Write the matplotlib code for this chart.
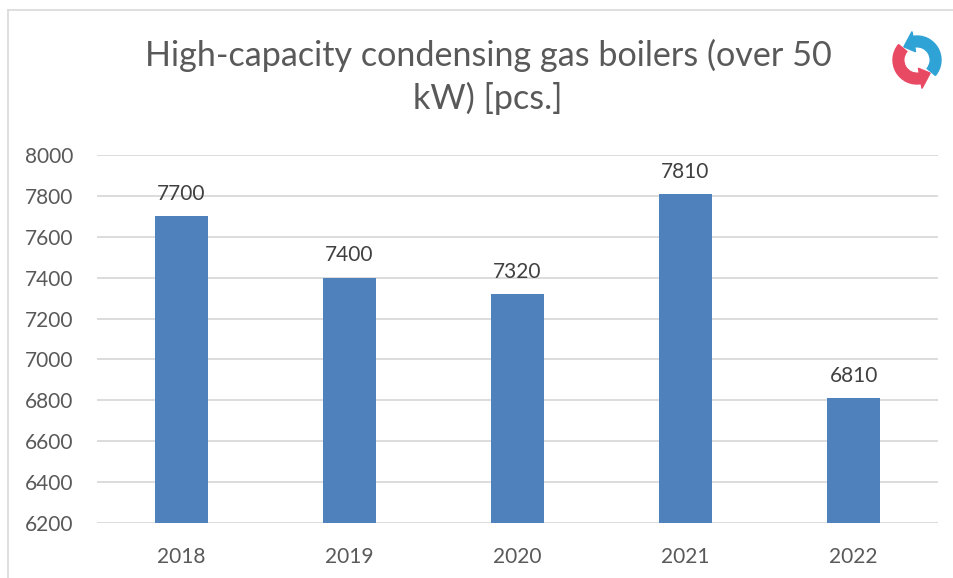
#!/usr/bin/env python3
import matplotlib
matplotlib.use("Agg")
import matplotlib.pyplot as plt
from matplotlib.patches import Wedge, Polygon
from matplotlib.lines import Line2D
import numpy as np

years = ["2018", "2019", "2020", "2021", "2022"]
boilers = [7700, 7400, 7320, 7810, 6810]
yticks = [6200, 6400, 6600, 6800, 7000, 7200, 7400, 7600, 7800, 8000]

plt.rcParams['font.family'] = ['Lato', 'DejaVu Sans']

fig = plt.figure(figsize=(9.54, 5.78), dpi=100)
ax = fig.add_axes([0.1017, 0.0952, 0.8813, 0.6366])

x = np.arange(len(years))
ax.bar(x, boilers, width=0.315, color="#4F81BD", zorder=3)
for xi, v in zip(x, boilers):
    ax.text(xi, v + 60, str(v), ha="center", va="bottom", fontsize=15, color="#404040", zorder=4)

ax.set_xlim(-0.5, len(years) - 0.5)
ax.set_ylim(6200, 8000)
ax.set_yticks(yticks)
ax.set_xticks(x)
ax.set_xticklabels(years)
ax.tick_params(axis="both", length=0, labelsize=15, labelcolor="#595959")
ax.tick_params(axis="y", pad=17)
ax.tick_params(axis="x", pad=17)
ax.grid(axis="y", color="#D9D9D9", linewidth=1.3, zorder=0)
for s in ax.spines.values():
    s.set_visible(False)

fig.text(0.5115, 0.867, "High-capacity condensing gas boilers (over 50\nkW) [pcs.]",
         ha="center", va="center", fontsize=24.6, color="#595959", linespacing=1.35)

# chart frame (top and left edges visible)
fig.add_artist(Line2D([8 / 954, 8 / 954], [0, 1 - 10 / 578], transform=fig.transFigure, color="#D9D9D9", lw=1.2))
fig.add_artist(Line2D([8 / 954, 1], [1 - 10 / 578, 1 - 10 / 578], transform=fig.transFigure, color="#D9D9D9", lw=1.2))

# logo, top right
lax = fig.add_axes([887 / 954, 1 - 90 / 578, 60 / 954, 60 / 578])
lax.set_aspect("equal")
lax.set_xlim(-1.25, 1.25)
lax.set_ylim(-1.25, 1.25)
lax.axis("off")
r_out, w = 1.0, 0.45
r_mid = r_out - w / 2
lax.add_patch(Wedge((0, 0), r_out, -40, 100, width=w, color="#2FA3D6"))
a = np.deg2rad(100)
tip = np.deg2rad(135)
lax.add_patch(Polygon([
    ((r_out + 0.2) * np.cos(a), (r_out + 0.2) * np.sin(a)),
    ((r_out - w - 0.2) * np.cos(a), (r_out - w - 0.2) * np.sin(a)),
    (r_mid * np.cos(tip), r_mid * np.sin(tip)),
], color="#2FA3D6"))
lax.add_patch(Wedge((0, 0), r_out, 140, 280, width=w, color="#E84A64"))
a = np.deg2rad(280)
tip = np.deg2rad(315)
lax.add_patch(Polygon([
    ((r_out + 0.2) * np.cos(a), (r_out + 0.2) * np.sin(a)),
    ((r_out - w - 0.2) * np.cos(a), (r_out - w - 0.2) * np.sin(a)),
    (r_mid * np.cos(tip), r_mid * np.sin(tip)),
], color="#E84A64"))

fig.savefig("out.png", dpi=100)
